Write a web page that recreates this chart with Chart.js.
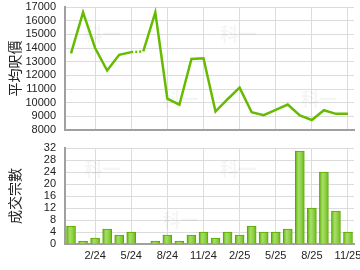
<!DOCTYPE html>
<html>
<head>
<meta charset="utf-8">
<script src="https://cdn.jsdelivr.net/npm/chart.js@4"></script>
<style>
  body { margin: 0; background: #fff; }
  .box { position: absolute; left: 0; width: 360px; }
  #top { top: 0; height: 136px; }
  #bottom { top: 136px; height: 134px; }
</style>
</head>
<body>
<div class="box" id="top"><canvas id="priceChart"></canvas></div>
<div class="box" id="bottom"><canvas id="dealsChart"></canvas></div>
<script>
const months = [
  "12/23", "1/24", "2/24", "3/24", "4/24", "5/24", "6/24", "7/24", "8/24", "9/24", "10/24", "11/24",
  "12/24", "1/25", "2/25", "3/25", "4/25", "5/25", "6/25", "7/25", "8/25", "9/25", "10/25", "11/25"
];
const tickMonths = ["2/24", "5/24", "8/24", "11/24", "2/25", "5/25", "8/25", "11/25"];
const avgPrice = [
  13600, 16600, 14000, 12350, 13500, 13700, 13750, 16600, 10300, 9850, 13200, 13250,
  9350, 10250, 11100, 9300, 9080, 9470, 9860, 9060, 8730, 9450, 9180, 9180
];
const deals = [
  6, 1, 2, 5, 3, 4, 0, 1, 3, 1, 3, 4,
  2, 4, 3, 6, 4, 4, 5, 31, 12, 24, 11, 4
];
const priceTitle = "平均呎價";
const dealsTitle = "成交宗數";
const watermark = "科一";

const gridGrey = "#dcdcdc";
const axisGrey = "#a0a0a0";
const tickFont = { family: "Liberation Sans, Arial, sans-serif", size: 11 };
const titleFont = { family: "Noto Sans CJK TC, sans-serif", size: 14 };

const vGrid = {
  offset: false,
  drawTicks: false,
  color: (ctx) => tickMonths.includes(months[ctx.index]) ? gridGrey : "rgba(0,0,0,0)"
};

// keep label overhang from shrinking the plot area
function noPad(s) {
  s.paddingTop = 0;
  s.paddingBottom = 0;
  s.paddingLeft = 0;
  s.paddingRight = 0;
}

const markPlugin = {
  id: "mark",
  beforeDatasetsDraw(chart) {
    const { ctx, chartArea } = chart;
    ctx.save();
    ctx.font = "bold 18px Noto Sans CJK TC, sans-serif";
    ctx.fillStyle = "rgba(0,0,0,0.04)";
    ctx.textBaseline = "middle";
    ctx.textAlign = "center";
    const h = chartArea.bottom - chartArea.top;
    [[0.05, 0.22], [0.52, 0.22], [0.32, 0.75], [0.8, 0.75]].forEach(([fx, fy]) => {
      ctx.fillText(watermark, chartArea.left + 23 + fx * (chartArea.right - chartArea.left), chartArea.top + fy * h);
    });
    ctx.restore();
  }
};

new Chart(document.getElementById("priceChart"), {
  type: "line",
  data: {
    labels: months,
    datasets: [{
      data: avgPrice,
      borderColor: "#66bb00",
      borderWidth: 2.5,
      pointRadius: 0,
      tension: 0,
      segment: {
        borderDash: (ctx) => ctx.p0DataIndex === 5 ? [2, 2] : undefined
      }
    }]
  },
  plugins: [markPlugin],
  options: {
    responsive: true,
    maintainAspectRatio: false,
    animation: false,
    layout: { autoPadding: false, padding: { top: 7, right: 6, left: 0, bottom: 0 } },
    plugins: { legend: { display: false }, tooltip: { enabled: false } },
    scales: {
      x: {
        offset: true,
        ticks: { display: false },
        grid: vGrid,
        border: { color: axisGrey, width: 2 },
        afterFit: (s) => { s.height = 6; noPad(s); }
      },
      y: {
        min: 8000,
        max: 17000,
        ticks: { stepSize: 1000, autoSkip: false, color: "#222", font: tickFont, padding: 9, callback: (v) => String(v) },
        grid: { color: gridGrey, drawTicks: false },
        border: { color: axisGrey, width: 2 },
        title: { display: true, text: priceTitle, color: "#222", font: titleFont, padding: { top: 6, bottom: 0 } },
        afterFit: (s) => { s.width = 65; noPad(s); }
      }
    }
  }
});

function barFill(ctx) {
  const chart = ctx.chart;
  const area = chart.chartArea;
  if (!area) return "#8ccf45";
  const x = chart.scales.x.getPixelForValue(ctx.dataIndex);
  const g = chart.ctx.createLinearGradient(x - 4.5, 0, x + 4.5, 0);
  g.addColorStop(0, "#5fb40a");
  g.addColorStop(0.35, "#a6de66");
  g.addColorStop(0.55, "#9ad657");
  g.addColorStop(1, "#6cbe14");
  return g;
}

new Chart(document.getElementById("dealsChart"), {
  type: "bar",
  data: {
    labels: months,
    datasets: [{
      data: deals,
      backgroundColor: barFill,
      borderColor: "#5aa800",
      borderWidth: 1,
      borderSkipped: "bottom",
      barThickness: 9
    }]
  },
  plugins: [markPlugin],
  options: {
    responsive: true,
    maintainAspectRatio: false,
    animation: false,
    layout: { autoPadding: false, padding: { top: 12, right: 6, left: 0, bottom: 0 } },
    plugins: { legend: { display: false }, tooltip: { enabled: false } },
    scales: {
      x: {
        offset: true,
        ticks: {
          autoSkip: false,
          maxRotation: 0,
          color: "#222",
          font: tickFont,
          padding: 5,
          callback: (v, i) => tickMonths.includes(months[i]) ? months[i] : ""
        },
        grid: vGrid,
        border: { color: axisGrey, width: 2 },
        afterFit: (s) => { s.height = 26; noPad(s); }
      },
      y: {
        min: 0,
        max: 32,
        ticks: { stepSize: 4, autoSkip: false, color: "#222", font: tickFont, padding: 9 },
        grid: { color: gridGrey, drawTicks: false },
        border: { color: axisGrey, width: 2 },
        title: { display: true, text: dealsTitle, color: "#222", font: titleFont, padding: { top: 6, bottom: 0 } },
        afterFit: (s) => { s.width = 65; noPad(s); }
      }
    }
  }
});
</script>
</body>
</html>
